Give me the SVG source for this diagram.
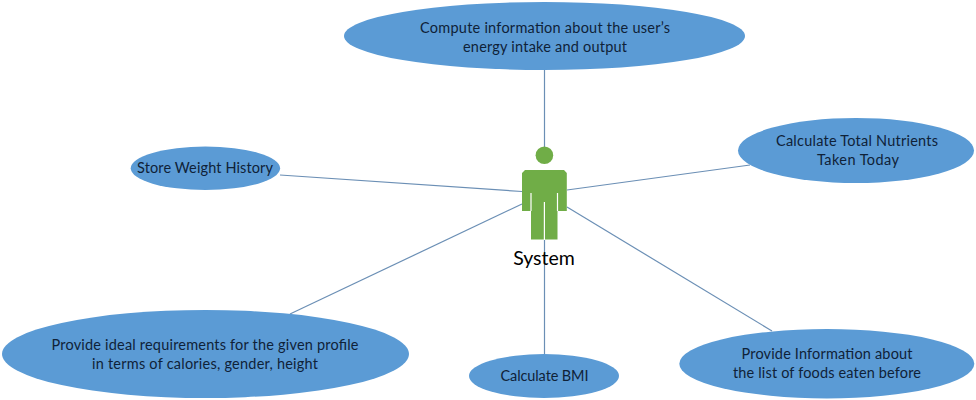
<svg xmlns="http://www.w3.org/2000/svg" width="976" height="400" viewBox="0 0 976 400">
<style>
.n{fill:#5b9bd5}
.c{stroke:#6b8fb5;stroke-width:1.2;fill:none}
.g{fill:#70ad47}
.s{stroke:#fff;stroke-width:1.2;fill:none}
text{font-family:"Lato","Open Sans","Liberation Sans",sans-serif;font-size:14.5px;fill:#0f2238;text-anchor:middle}
</style>
<rect width="976" height="400" fill="#fff"/>
<g id="connectors">
<line class="c" x1="544.5" y1="68" x2="544.5" y2="147"/>
<line class="c" x1="280" y1="175" x2="522" y2="191.5"/>
<line class="c" x1="750" y1="165" x2="567" y2="190"/>
<line class="c" x1="290" y1="314" x2="522" y2="204"/>
<line class="c" x1="544.5" y1="240" x2="544.5" y2="356"/>
<line class="c" x1="772" y1="331" x2="567" y2="207"/>
</g>
<g id="actor">
<circle class="g" cx="544.4" cy="155.2" r="8.8"/>
<path class="g" d="M525 170H564L566.8 173V211H557.5V239.5H531V211H522V173Z"/>
<path class="s" d="M531 193V211M557.5 193V211M544.4 202V240"/>
<text x="544" y="265" style="font-size:19.5px;fill:#000">System</text>
</g>
<g id="n1"><ellipse class="n" cx="544.5" cy="36" rx="200.5" ry="34"/>
<text x="545" y="33" textLength="250">Compute information about the user’s</text><text x="545" y="52" textLength="164">energy intake and output</text></g>
<g id="n2"><ellipse class="n" cx="205.400" cy="168.300" rx="74.700" ry="21.700"/>
<text x="205" y="173" textLength="136">Store Weight History</text></g>
<g id="n3"><ellipse class="n" cx="856" cy="150.500" rx="118" ry="32.500"/>
<text x="857" y="146" textLength="162">Calculate Total Nutrients</text><text x="858" y="165" textLength="82">Taken Today</text></g>
<g id="n4"><ellipse class="n" cx="205.500" cy="354" rx="203.500" ry="44"/>
<text x="205" y="350" textLength="307">Provide ideal requirements for the given profile</text><text x="205" y="369" textLength="226">in terms of calories, gender, height</text></g>
<g id="n5"><ellipse class="n" cx="544" cy="376" rx="75" ry="22"/>
<text x="544.500" y="381" textLength="88">Calculate BMI</text></g>
<g id="n6"><ellipse class="n" cx="826.800" cy="363.700" rx="147.500" ry="34.700"/>
<text x="827" y="359" textLength="171">Provide Information about</text><text x="827" y="378" textLength="188">the list of foods eaten before</text></g>
</svg>
